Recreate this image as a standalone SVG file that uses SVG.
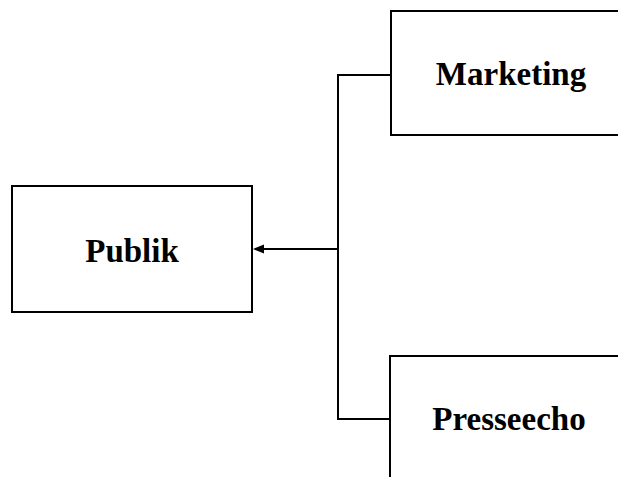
<svg xmlns="http://www.w3.org/2000/svg" width="618" height="477" viewBox="0 0 618 477">
<style>
.box{fill:#fff;stroke:#000;stroke-width:2}
.ln{fill:none;stroke:#000;stroke-width:2}
.t{font-family:"Liberation Serif","Times New Roman",serif;font-weight:bold;font-size:33px;text-anchor:middle;fill:#000}
</style>
<rect width="618" height="477" fill="#fff"/>
<g id="publik">
<rect class="box" x="12" y="186" width="240" height="126"/>
<text class="t" x="132" y="262">Publik</text>
</g>
<g id="marketing">
<path class="box" d="M619,11 H391 V135 H619"/>
<text class="t" x="511" y="85">Marketing</text>
</g>
<g id="presseecho">
<path class="box" d="M619,356 H390 V478"/>
<text class="t" x="509" y="430">Presseecho</text>
</g>
<g id="connectors">
<path class="ln" d="M391,75 H338 V419 H390"/>
<path class="ln" d="M338,249 H262"/>
<polygon points="253,249 264,244.5 264,253.5" fill="#000"/>
</g>
</svg>
